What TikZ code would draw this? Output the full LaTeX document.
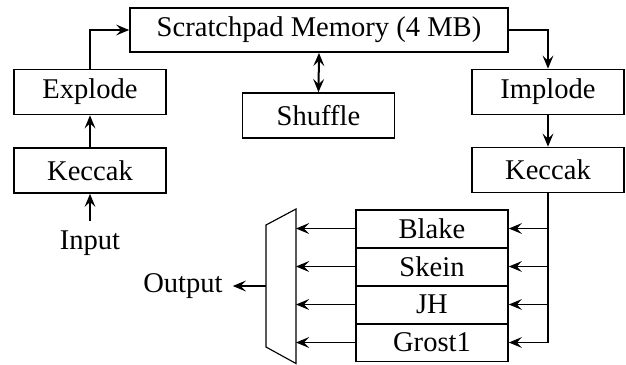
\documentclass[tikz,border=0pt]{standalone}
\usepackage{fontspec}
\setmainfont{Liberation Serif}
\usetikzlibrary{arrows.meta}
\tikzset{
	block/.style={draw, line width=0.6pt, inner sep=0pt, minimum width=53.2pt, minimum height=15.75pt},
	hash/.style={draw, line width=0.6pt, inner sep=0pt, minimum width=53.2pt, minimum height=13.2pt},
	tip/.style={>={Stealth[length=4.6pt, width=3.8pt, inset=1.8pt]}},
	link/.style={->, tip, line width=0.4pt}
}

\begin{document}
\begin{tikzpicture}[x=0.35pt, y=-0.35pt]
		\useasboundingbox (0,0) rectangle (626,364);
		
		\node[block, minimum width=132.3pt, minimum height=15.4pt] (scratch) at (319,30) {Scratchpad Memory (4 MB)};
		
		\node[block] (explode) at (90,92) {Explode};
		\node[block] (keccakin) at (90,170.5) {Keccak};
		\node (input) at (90,243) {Input};
		
		\node[block] (shuffle) at (318.5,115.5) {Shuffle};
		
		\node[block] (implode) at (548,92) {Implode};
		\node[block] (keccakout) at (548,170) {Keccak};
		
		%\node[hash] (blake) at (432,228.5) {Blake};
		\foreach \name/\y [count=\i] in {Blake/228.5, Skein/266.5, JH/304.5, Grost1/342.5} {
			\node[hash] (h\i) at (432,\y) {\name};
			\coordinate (tap\i) at (548,\y);
			\coordinate (mux\i) at (296,\y);
		}
		
		% multiplexer
		\draw[line width=0.4pt] (266,225) -- (296,209) -- (296,363.5) -- (266,347) -- cycle;
		\coordinate (muxout) at (266,286);
		\node (output) at (183,286) {Output};
		
		\draw[link] (input.north)     -- (keccakin.south);
		\draw[link] (keccakin.north)  -- (explode.south);
		\draw[link] (explode.north)   |- (scratch.west);
		\draw[<->, tip, line width=0.7pt] (scratch.south) -- (shuffle.north);
		\draw[link] (scratch.east)    -| (implode.north);
		\draw[link] (implode.south)   -- (keccakout.north);
		\draw[line width=0.4pt] (keccakout.south) -- (tap4);
		\foreach \i in {1,...,4} {
			\draw[link] (tap\i) -- (h\i.east);
			\draw[link] (h\i.west) -- (mux\i);
		}
		\draw[link] (muxout) -- (output.east);
	\end{tikzpicture}
\end{document}
